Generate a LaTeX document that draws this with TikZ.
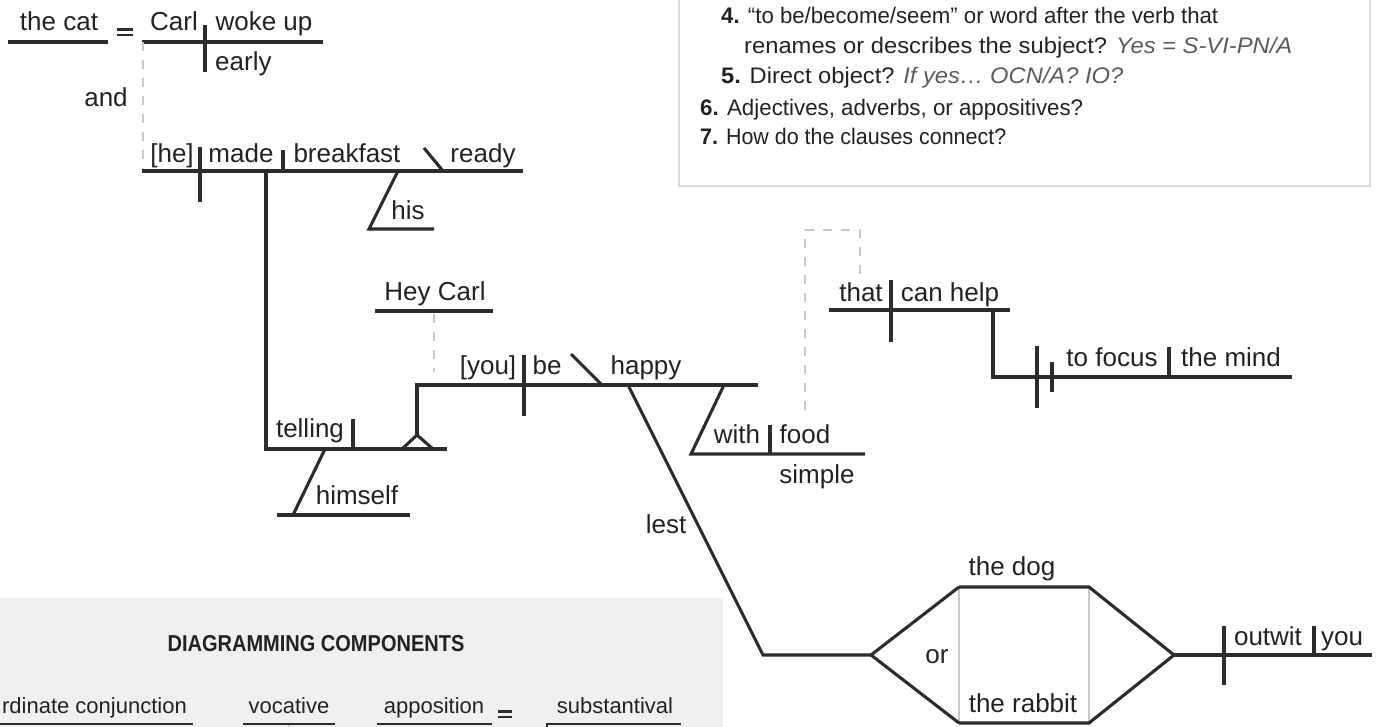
\documentclass[tikz,border=0pt]{standalone}
\usepackage{fontspec}
\setmainfont{Liberation Sans}
\usepackage{graphicx}
\definecolor{ink}{HTML}{222222}
\definecolor{lncol}{HTML}{2C2C2C}
\definecolor{dsh}{HTML}{C8C8C8}
\definecolor{bord}{HTML}{DDDDDD}
\definecolor{panelbg}{HTML}{F0F0F0}
\definecolor{note}{HTML}{5A5A5A}
\begin{document}
\begin{tikzpicture}[x=1pt,y=-1pt,
  wd/.style={anchor=base,inner sep=0pt,text=ink,font=\fontsize{26}{26}\selectfont},
  bx/.style={anchor=base west,inner sep=0pt,text=ink,font=\fontsize{22.5}{22.5}\selectfont},
  itm/.style={anchor=base,inner sep=0pt,text=ink,font=\fontsize{22}{22}\selectfont},
  dline/.style={draw=lncol,line width=3.1pt},
  gdash/.style={draw=dsh,line width=2.6pt,dash pattern=on 9pt off 9pt},
  gsolid/.style={draw=dsh,line width=2.2pt}]
\useasboundingbox (0,0) rectangle (1380,727);
\clip (0,0) rectangle (1380,727);
% panels
\fill[panelbg] (0,598) rectangle (723,740);
\draw[bord,line width=1.5pt] (679,-10) -- (679,186) -- (1370,186) -- (1370,-10);
% ---- diagram lines ----
\draw[dline] (8,42) -- (108,42);
\draw[lncol,line width=2.8pt] (117,29.5) -- (133,29.5) (117,35) -- (133,35);
\draw[dline] (142,42) -- (323,42);
\draw[dline] (205,25) -- (205,72);
\draw[gdash] (143,42) -- (143,171);
\draw[dline] (142,171) -- (523,171);
\draw[dline] (200,147) -- (200,202);
\draw[dline] (283,150) -- (283,171);
\draw[dline] (424,148) -- (443,171);
\draw[dline] (398,171) -- (369,229) -- (434,229);
\draw[dline] (266,171) -- (266,449) -- (447,449);
\draw[dline] (353,419) -- (353,449);
\draw[dline] (325,449) -- (293,515);
\draw[dline] (277,515) -- (410,515);
\draw[dline] (402,449) -- (417,435) -- (433,449);
\draw[dline] (417,435) -- (417,385) -- (758,385);
\draw[dline] (375,311) -- (493,311);
\draw[gdash] (434,314) -- (434,372);
\draw[dline] (524,355) -- (524,416);
\draw[dline] (571,354) -- (602,385);
\draw[dline] (628,385) -- (763,655) -- (871,655);
\draw[dline] (724,385) -- (691,454) -- (865,454);
\draw[dline] (770,425) -- (770,454);
\draw[gdash] (805,410) -- (805,230) -- (860,230) -- (860,275);
\draw[dline] (829,310) -- (1010,310);
\draw[dline] (891,280) -- (891,342);
\draw[dline] (993,310) -- (993,377) -- (1292,377);
\draw[dline] (1037,346) -- (1037,408);
\draw[dline] (1052,362) -- (1052,392);
\draw[dline] (1169,347) -- (1169,377);
% coordination diamond
\draw[gsolid] (959,587) -- (959,723) (1089,587) -- (1089,723);
\draw[dline] (959,587) -- (871,655) -- (959,723);
\draw[dline] (959,587) -- (1089,587) -- (1174,655) -- (1089,723) -- (959,723);
\draw[dline] (1174,655) -- (1372,655);
\draw[dline] (1224,626) -- (1224,685);
\draw[dline] (1314,626) -- (1314,655);
% ---- words ----
\node[wd] (thecat) at (59,31) {the cat};
\node[wd] (carl) at (174,31) {Carl};
\node[wd] (wokeup) at (264,31) {woke up};
\node[wd,anchor=base west] (early) at (215,71) {early};
\node[wd] (and) at (106,107) {and};
\node[wd] (he) at (172,163) {[he]};
\node[wd] (made) at (241,163) {made};
\node[wd] (breakfast) at (347,163) {breakfast};
\node[wd] (ready) at (483,163) {ready};
\node[wd] (his) at (408,220) {his};
\node[wd] (telling) at (310,437) {telling};
\node[wd] (himself) at (357,504) {himself};
\node[wd] (heycarl) at (435,300) {Hey Carl};
\node[wd] (you) at (488,374) {[you]};
\node[wd] (be) at (547,374) {be};
\node[wd] (happy) at (646,374) {happy};
\node[wd] (with) at (737,443) {with};
\node[wd] (food) at (805,443) {food};
\node[wd] (simple) at (817,483) {simple};
\node[wd] (lest) at (666,533) {lest};
\node[wd] (that) at (861,301) {that};
\node[wd] (canhelp) at (950,301) {can help};
\node[wd] (tofocus) at (1112,366) {to focus};
\node[wd] (themind) at (1231,366) {the mind};
\node[wd] (thedog) at (1012,575) {the dog};
\node[wd] (or) at (937,663) {or};
\node[wd] (rabbit) at (1023,712) {the rabbit};
\node[wd] (outwit) at (1268,645) {outwit};
\node[wd] (youobj) at (1342,645) {you};
% ---- question box ----
\node[bx] (q4) at (721,24) {\resizebox{497pt}{\height}{\textbf{4.} “to be/become/seem” or word after the verb that}};
\node[bx] (q4b) at (744,54) {\resizebox{548pt}{\height}{renames or describes the subject? \textcolor{note}{\itshape Yes = S-VI-PN/A}}};
\node[bx] (q5) at (721,84) {\resizebox{402pt}{\height}{\textbf{5.} Direct object? \textcolor{note}{\itshape If yes… OCN/A? IO?}}};
\node[bx] (q6) at (700,116) {\resizebox{383pt}{\height}{\textbf{6.} Adjectives, adverbs, or appositives?}};
\node[bx] (q7) at (700,145) {\resizebox{306pt}{\height}{\textbf{7.} How do the clauses connect?}};
% ---- components panel ----
\node[inner sep=0pt,anchor=base,text=ink] (title) at (316,651)
  {\scalebox{0.87}[1]{\fontsize{23}{23}\selectfont\bfseries DIAGRAMMING COMPONENTS}};
\node[itm,anchor=base east] (coord) at (187,713) {rdinate conjunction};
\node[itm] (voc) at (289,713) {vocative};
\node[itm] (appo) at (434,713) {apposition};
\node[itm] (subst) at (615,713) {substantival};
\draw[lncol,line width=2.6pt] (0,724) -- (193,724);
\draw[lncol,line width=2.6pt] (243,724) -- (335,724);
\draw[dsh,line width=2pt] (289,725) -- (289,730);
\draw[lncol,line width=2.6pt] (377,724) -- (492,724);
\draw[lncol,line width=2.4pt] (498,711.5) -- (512,711.5) (498,717) -- (512,717);
\draw[lncol,line width=2.6pt] (547,732) -- (547,724) -- (681,724);
\end{tikzpicture}
\end{document}
